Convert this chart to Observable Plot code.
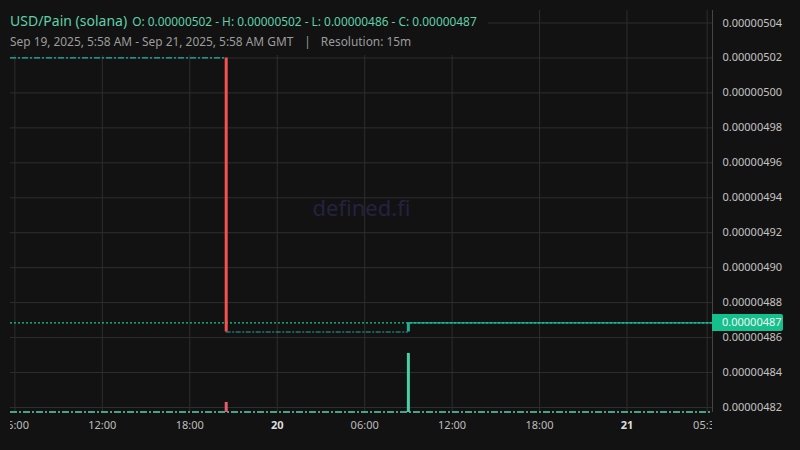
<!DOCTYPE html>
<html>
<head>
<meta charset="utf-8">
<script src="https://cdn.jsdelivr.net/npm/d3@7"></script>
<script src="https://cdn.jsdelivr.net/npm/@observablehq/plot@0.6"></script>
<style>
  body { margin: 0; background: #121212; }
  #chart { position: relative; width: 800px; height: 450px; overflow: hidden; font-family: "Noto Sans", sans-serif; background: #121212; }
  #chart .layer { position: absolute; left: 0; top: 0; }
  #xaxis { position: absolute; left: 10px; top: 412px; width: 702px; height: 30px; overflow: hidden; }
  #header { position: absolute; left: 0; top: 10px; padding: 0 11px 4px 10px; background: #121212; line-height: 20px; white-space: nowrap; }
  #title { color: #5fd0a8; font-size: 14px; }
  #ohlc { color: #5fd0a8; font-size: 11.9px; margin-left: 5px; }
  #sub { color: #9c9c9c; font-size: 11.9px; }
  #sub .sep { margin: 0 10px 0 11px; }
</style>
</head>
<body>
<div id="chart"></div>
<script>
// ---- data -------------------------------------------------------------
const pairName = "USD/Pain (solana)";
const rangeText = "Sep 19, 2025, 5:58 AM - Sep 21, 2025, 5:58 AM GMT";
const resolution = "15m";
const watermark = "defined.fi";

// visible time window
const timeDomain = ["2025-09-19T05:42Z", "2025-09-21T05:52Z"];

// the two 15m candles where the price moved
const candleTime   = ["2025-09-19T20:30Z", "2025-09-20T09:00Z"];
const candleOpen   = [5.02e-6, 4.8632e-6];
const candleClose  = [4.8632e-6, 4.8684e-6];
const candleVolume = [2.5, 14.7];

// flat stretches where every candle printed the same price
const levelFrom  = ["2025-09-19T05:42Z", "2025-09-19T20:30Z", "2025-09-20T09:00Z"];
const levelTo    = ["2025-09-19T20:30Z", "2025-09-20T09:00Z", "2025-09-21T05:52Z"];
const levelPrice = [5.02e-6, 4.8632e-6, 4.8684e-6];

// axis ticks
const priceTicks = [4.82e-6, 4.84e-6, 4.86e-6, 4.88e-6, 4.90e-6, 4.92e-6, 4.94e-6,
                    4.96e-6, 4.98e-6, 5.00e-6, 5.02e-6, 5.04e-6];
const hourTicks = ["2025-09-19T06:00Z", "2025-09-19T12:00Z", "2025-09-19T18:00Z",
                   "2025-09-20T06:00Z", "2025-09-20T12:00Z", "2025-09-20T18:00Z",
                   "2025-09-21T05:30Z"];
const dayTicks = ["2025-09-20T00:00Z", "2025-09-21T00:00Z"];

// ---- derived ----------------------------------------------------------
const toDate = s => new Date(s);
const xDom = timeDomain.map(toDate);
const yDom = [4.81714e-6, 5.04715e-6];
const candles = candleTime.map((t, i) => ({
  time: toDate(t), open: candleOpen[i], close: candleClose[i], volume: candleVolume[i]
}));
const levels = levelFrom.map((f, i) => ({from: toDate(f), to: toDate(levelTo[i]), price: levelPrice[i]}));
const hours = hourTicks.map(toDate);
const days = dayTicks.map(toDate);
const lastClose = candleClose[candleClose.length - 1];
const fmt = d3.format(".8f");

const UP = "#1fb096", DOWN = "#f4514f";
const VOL_UP = "#4ccfa4", VOL_DOWN = "#e35d72";
const GRID = "#2e2e2e";

const W = 800, H = 450;
const margins = {marginLeft: 10, marginRight: 88, marginTop: 10, marginBottom: 38};
const baseStyle = {background: "transparent", color: "#c3c3c3", fontFamily: "Noto Sans, sans-serif", overflow: "visible"};

// last-price tag drawn in the right margin, positioned by the y scale
function priceTag(index, scales, values, dimensions) {
  const y = scales.y(lastClose);
  const x0 = dimensions.width - dimensions.marginRight;
  const w = 71, h = 17, r = 2;
  const g = d3.create("svg:g");
  g.append("path")
    .attr("fill", "#14c08c")
    .attr("d", `M${x0},${y - h / 2}H${x0 + w - r}a${r},${r} 0 0 1 ${r},${r}V${y + h / 2 - r}a${r},${r} 0 0 1 ${-r},${r}H${x0}Z`);
  g.append("text")
    .attr("x", x0 + 10).attr("y", y).attr("dy", "0.35em")
    .attr("text-anchor", "start")
    .attr("fill", "#f4f4f4").attr("font-size", 11)
    .attr("font-family", "Noto Sans, sans-serif")
    .text(fmt(lastClose));
  return g.node();
}

const up = candles.filter(d => d.close >= d.open);
const down = candles.filter(d => d.close < d.open);

// ---- price pane -------------------------------------------------------
const price = Plot.plot({
  width: W, height: H, ...margins,
  style: baseStyle,
  x: {type: "utc", domain: xDom, axis: null},
  y: {domain: yDom, axis: null},
  marks: [
    Plot.gridY(priceTicks, {stroke: GRID, strokeOpacity: 1}),
    Plot.gridX([...hours, ...days], {stroke: GRID, strokeOpacity: 1}),
    Plot.text([watermark], {frameAnchor: "middle", dy: -3, fill: "#24223f", fontSize: 22, fontFamily: "Noto Sans, sans-serif"}),
    Plot.ruleY([levels[0]], {y: "price", x1: "from", x2: "to", stroke: "#1fb5a6", strokeWidth: 1.2, strokeDasharray: "6,2,2,2"}),
    Plot.ruleY([levels[1]], {y: "price", x1: "from", x2: "to", stroke: "#2aa89c", strokeWidth: 1.2, strokeDasharray: "5,1.5,2,1.5"}),
    Plot.ruleY([levels[2]], {y: "price", x1: "from", x2: "to", stroke: "#22b59a", strokeWidth: 1.2}),
    Plot.ruleY([lastClose], {stroke: "#14c98f", strokeWidth: 1.2, strokeDasharray: "2,2"}),
    Plot.ruleX(down, {x: "time", y1: "open", y2: "close", stroke: DOWN, strokeWidth: 3}),
    Plot.ruleX(up, {x: "time", y1: "open", y2: "close", stroke: UP, strokeWidth: 3}),
    Plot.ruleX([xDom[1]], {stroke: "#464646"}),
    Plot.axisY(priceTicks, {anchor: "right", tickSize: 0, tickPadding: 10, tickFormat: fmt, fontSize: 11, fill: "#c3c3c3", label: null}),
    priceTag
  ]
});
price.classList.add("layer");

// ---- volume pane (shares the time axis, own value scale) ---------------
const volume = Plot.plot({
  width: W, height: H, ...margins,
  style: baseStyle,
  x: {type: "utc", domain: xDom, axis: null},
  y: {domain: [0, 100], axis: null},
  marks: [
    Plot.ruleY([0], {stroke: "#5fcfb0", strokeWidth: 1.5, strokeDasharray: "7,2,2,2", dy: -0.5}),
    Plot.ruleX(down, {x: "time", y1: 0, y2: "volume", stroke: VOL_DOWN, strokeWidth: 3}),
    Plot.ruleX(up, {x: "time", y1: 0, y2: "volume", stroke: VOL_UP, strokeWidth: 3})
  ]
});
volume.classList.add("layer");

// ---- time axis (clipped to the pane width) ------------------------------
const xaxis = Plot.plot({
  width: 702, height: 30,
  marginLeft: 0, marginRight: 0, marginTop: 0, marginBottom: 30,
  style: {...baseStyle, overflow: "hidden"},
  x: {type: "utc", domain: xDom, axis: null},
  marks: [
    Plot.axisX(hours, {anchor: "bottom", tickSize: 0, tickPadding: 9, tickFormat: d3.utcFormat("%H:%M"), fontSize: 11, fill: "#bdbdbd", label: null}),
    Plot.axisX(days, {anchor: "bottom", tickSize: 0, tickPadding: 9, tickFormat: d3.utcFormat("%-d"), fontSize: 11, fontWeight: "bold", fill: "#dcdcdc", label: null})
  ]
});

// ---- header -------------------------------------------------------------
const allPrices = [...levelPrice, ...candleOpen, ...candleClose];
const header = document.createElement("div");
header.id = "header";
header.innerHTML =
  `<div><span id="title">${pairName}</span><span id="ohlc">O: ${fmt(levelPrice[0])} - H: ${fmt(d3.max(allPrices))} - L: ${fmt(d3.min(allPrices))} - C: ${fmt(lastClose)}</span></div>` +
  `<div id="sub">${rangeText}<span class="sep">|</span>Resolution: ${resolution}</div>`;

const chart = document.getElementById("chart");
chart.append(price, volume);
const xwrap = document.createElement("div");
xwrap.id = "xaxis";
xwrap.append(xaxis);
chart.append(xwrap, header);
</script>
</body>
</html>
